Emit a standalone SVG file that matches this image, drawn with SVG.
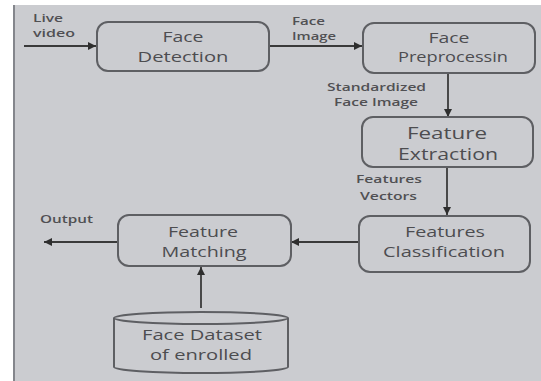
<svg xmlns="http://www.w3.org/2000/svg" width="541" height="381" viewBox="0 0 541 381">
<defs>
<marker id="ah" viewBox="0 0 10 10" refX="10" refY="5" markerWidth="10" markerHeight="8" markerUnits="userSpaceOnUse" orient="auto">
<path d="M0,0 L10,5 L0,10 z" fill="#2e2e2e"/>
</marker>
<style>
.box{fill:#cbccd0;stroke:#5e5f63;stroke-width:2}
.t{font-family:"Open Sans","DejaVu Sans",sans-serif;font-size:15px;fill:#4d4d50;text-anchor:middle}
.tb{font-size:17px}
.ts{font-size:14px}
.l{font-family:"Open Sans","DejaVu Sans",sans-serif;font-size:11px;font-weight:600;fill:#505053}
.c{fill:none;stroke:#3a3a3a;stroke-width:1.8;marker-end:url(#ah)}
</style>
</defs>
<rect x="0" y="0" width="541" height="381" fill="#ffffff"/>
<rect x="13" y="5" width="528" height="376" fill="#cbccd0"/>
<line x1="14" y1="5" x2="14" y2="381" stroke="#84868c" stroke-width="2"/>

<g id="connectors">
<line class="c" x1="24" y1="46" x2="96" y2="46"/>
<line class="c" x1="269" y1="46" x2="362" y2="46"/>
<line class="c" x1="448" y1="73" x2="448" y2="117"/>
<line class="c" x1="447" y1="167" x2="447" y2="215"/>
<line class="c" x1="359" y1="242" x2="291" y2="242"/>
<line class="c" x1="118" y1="242" x2="44" y2="242"/>
<line class="c" x1="201" y1="308" x2="201" y2="267"/>
</g>

<g id="labels">
<text class="l" x="33" y="22" textLength="30" lengthAdjust="spacingAndGlyphs">Live</text>
<text class="l" x="33" y="37" textLength="42" lengthAdjust="spacingAndGlyphs">video</text>
<text class="l" x="292" y="25" textLength="33" lengthAdjust="spacingAndGlyphs">Face</text>
<text class="l" x="292" y="40" textLength="44" lengthAdjust="spacingAndGlyphs">Image</text>
<text class="l" x="327" y="91" textLength="99" lengthAdjust="spacingAndGlyphs">Standardized</text>
<text class="l" x="334" y="106" textLength="84" lengthAdjust="spacingAndGlyphs">Face Image</text>
<text class="l" x="356" y="183" textLength="66" lengthAdjust="spacingAndGlyphs">Features</text>
<text class="l" x="360" y="200" textLength="57" lengthAdjust="spacingAndGlyphs">Vectors</text>
<text class="l" x="40" y="223" textLength="53" lengthAdjust="spacingAndGlyphs">Output</text>
</g>

<g id="face-detection">
<rect class="box" x="97" y="22" width="172" height="49" rx="11"/>
<text class="t" x="183" y="42" textLength="41" lengthAdjust="spacingAndGlyphs">Face</text>
<text class="t" x="183" y="62" textLength="91" lengthAdjust="spacingAndGlyphs">Detection</text>
</g>

<g id="face-preprocessing">
<rect class="box" x="363" y="23" width="172" height="50" rx="11"/>
<text class="t" x="449" y="43" textLength="41" lengthAdjust="spacingAndGlyphs">Face</text>
<text class="t" x="453" y="62" textLength="110" lengthAdjust="spacingAndGlyphs">Preprocessin</text>
</g>

<g id="feature-extraction">
<rect class="box" x="362" y="117" width="171" height="50" rx="11"/>
<text class="t tb" x="447" y="139" textLength="80" lengthAdjust="spacingAndGlyphs">Feature</text>
<text class="t tb" x="448" y="160" textLength="100" lengthAdjust="spacingAndGlyphs">Extraction</text>
</g>

<g id="features-classification">
<rect class="box" x="359" y="216" width="171" height="56" rx="11"/>
<text class="t" x="445" y="237" textLength="80" lengthAdjust="spacingAndGlyphs">Features</text>
<text class="t" x="444" y="257" textLength="122" lengthAdjust="spacingAndGlyphs">Classification</text>
</g>

<g id="feature-matching">
<rect class="box" x="118" y="215" width="173" height="51" rx="11"/>
<text class="t" x="203" y="237" textLength="70" lengthAdjust="spacingAndGlyphs">Feature</text>
<text class="t" x="204" y="257" textLength="85" lengthAdjust="spacingAndGlyphs">Matching</text>
</g>

<g id="face-dataset">
<path class="box" d="M114,318 L114,367 A87,6 0 0 0 288,367 L288,318"/>
<ellipse class="box" cx="201" cy="318" rx="87" ry="6"/>
<text class="t ts" x="202" y="340" textLength="120" lengthAdjust="spacingAndGlyphs">Face Dataset</text>
<text class="t ts" x="201" y="360" textLength="102" lengthAdjust="spacingAndGlyphs">of enrolled</text>
</g>
</svg>
